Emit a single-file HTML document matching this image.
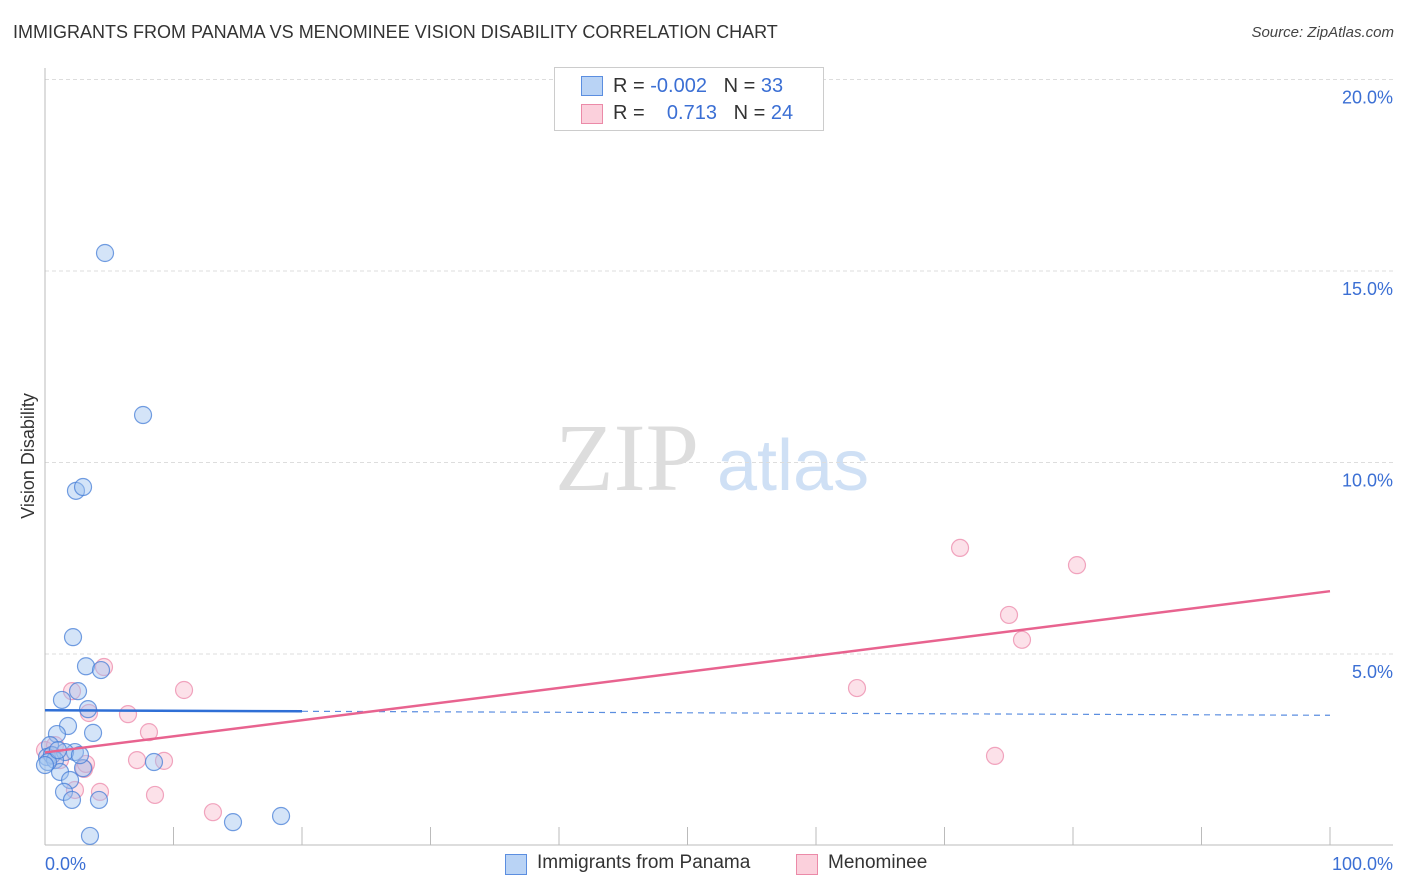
<!DOCTYPE html>
<html><head><meta charset="utf-8"><style>
body{margin:0;width:1406px;height:892px;background:#fff;font-family:"Liberation Sans",sans-serif;overflow:hidden;position:relative}
.t{position:absolute;white-space:nowrap}
</style></head><body>
<div class="t" style="left:13px;top:22px;font-size:18px;color:#333">IMMIGRANTS FROM PANAMA VS MENOMINEE VISION DISABILITY CORRELATION CHART</div>
<div class="t" style="right:12px;top:24px;font-size:15px;color:#444;font-style:italic">Source: ZipAtlas.com</div>
<svg id="c" width="1406" height="892" style="position:absolute;left:0;top:0">
<text x="555" y="490" font-family="Liberation Serif" font-size="96" fill="#ddd">ZIP</text>
<text x="717" y="490" font-family="Liberation Sans" font-size="72" fill="#cfe0f5">atlas</text>
<text transform="translate(34,456) rotate(-90)" text-anchor="middle" font-size="18" fill="#333">Vision Disability</text>
<text x="45" y="870" font-size="18" fill="#3b6fd4">0.0%</text>
<text x="1393" y="870" text-anchor="end" font-size="18" fill="#3b6fd4">100.0%</text>
<g id="g"></g>
</svg>
<div style="position:absolute;left:554px;top:67px;width:268px;height:62px;border:1px solid #ccc;background:#fff;font-size:20px;color:#333">
<div style="position:absolute;left:26px;top:8px;width:20px;height:18px;background:#b9d3f5;border:1px solid #5b8ee0"></div>
<div class="t" style="left:58px;top:7px">R = <span style="color:#3b6fd4">-0.002</span>&nbsp;&nbsp;&nbsp;N = <span style="color:#3b6fd4">33</span></div>
<div style="position:absolute;left:26px;top:36px;width:20px;height:18px;background:#fbd0dc;border:1px solid #eb8aa8"></div>
<div class="t" style="left:58px;top:34px">R = &nbsp;&nbsp;&nbsp;<span style="color:#3b6fd4">0.713</span>&nbsp;&nbsp;&nbsp;N = <span style="color:#3b6fd4">24</span></div>
</div>
<div style="position:absolute;left:505px;top:852px;font-size:19px;color:#333">
<div style="position:absolute;left:0;top:2px;width:20px;height:19px;background:#b9d3f5;border:1px solid #5b8ee0"></div>
<div class="t" style="left:32px;top:0">Immigrants from Panama</div>
<div style="position:absolute;left:291px;top:2px;width:20px;height:19px;background:#fbd0dc;border:1px solid #eb8aa8"></div>
<div class="t" style="left:323px;top:0">Menominee</div>
</div>
<script>
const blueX=[4.67,7.63,2.41,2.96,2.18,3.19,4.36,2.57,1.32,3.35,1.79,3.74,0.93,0.39,0.16,0.54,2.33,1.56,0.78,1.17,1.95,1.48,2.10,4.20,3.50,8.48,14.63,18.37,2.96,0.23,1.01,2.72,0.0];
const blueY=[15.47,11.24,9.26,9.36,5.44,4.68,4.58,4.03,3.80,3.56,3.12,2.94,2.91,2.62,2.31,2.36,2.44,2.44,2.23,1.92,1.71,1.40,1.19,1.19,0.25,2.18,0.61,0.77,2.02,2.18,2.49,2.36,2.10];
const pinkX=[4.59,2.10,3.42,6.46,10.82,8.09,7.16,9.26,3.04,3.19,8.56,4.28,13.07,2.33,0.54,1.17,63.19,71.21,80.31,75.02,76.03,73.93,0,0.78];
const pinkY=[4.66,4.03,3.46,3.43,4.06,2.96,2.23,2.21,2.00,2.13,1.32,1.40,0.87,1.45,2.36,2.23,4.11,7.77,7.32,6.02,5.37,2.34,2.49,2.62];
const yTicks=[5,10,15,20];
const blueTrend=[3.53,3.40];
const pinkTrend=[2.43,6.64];
const sx=v=>45+v*12.85, sy=v=>845.5-v*38.3;
const g=document.getElementById('g'),NS='http://www.w3.org/2000/svg';
function mk(t,a){const e=document.createElementNS(NS,t);for(const k in a)e.setAttribute(k,a[k]);g.appendChild(e);return e;}
yTicks.forEach(v=>{
 const l=mk('line',{x1:45,x2:1393,y1:sy(v),y2:sy(v),stroke:'#ddd','stroke-dasharray':'4,3'});
 
 
 const t=mk('text',{x:1393,y:sy(v)+24,'text-anchor':'end','font-size':18,fill:'#3b6fd4'});
 t.textContent=v.toFixed(1)+'%';
 
 
});
const ax=mk('line',{x1:45,x2:45,y1:68,y2:845,stroke:'#bbb'});


const bx=mk('line',{x1:45,x2:1393,y1:845,y2:845,stroke:'#bbb'});


for(let i=0;i<=10;i++){const l=mk('line',{x1:sx(i*10),x2:sx(i*10),y1:827,y2:845,stroke:'#bbb'});
 
 }
function dots(X,Y,f,s,n){X.forEach((x,i)=>{const c=mk('circle',{cx:sx(x),cy:sy(Y[i]),r:8.5,fill:f,stroke:s,'stroke-width':1.2});
 
 });}
dots(pinkX,pinkY,'rgba(248,180,200,0.4)','rgba(235,130,165,0.7)','menominee-point');
dots(blueX,blueY,'rgba(160,196,240,0.45)','rgba(70,125,215,0.75)','panama-point');
const bm=blueTrend[0]+(blueTrend[1]-blueTrend[0])*0.2;
let l=mk('line',{x1:sx(0),y1:sy(blueTrend[0]),x2:sx(20),y2:sy(bm),stroke:'#2f6fd6','stroke-width':2.5});


l=mk('line',{x1:sx(20),y1:sy(bm),x2:sx(100),y2:sy(blueTrend[1]),stroke:'#5b8ee0','stroke-width':1.2,'stroke-dasharray':'6,5'});


l=mk('line',{x1:sx(0),y1:sy(pinkTrend[0]),x2:sx(100),y2:sy(pinkTrend[1]),stroke:'#e8638f','stroke-width':2.5});


</script>
</body></html>
